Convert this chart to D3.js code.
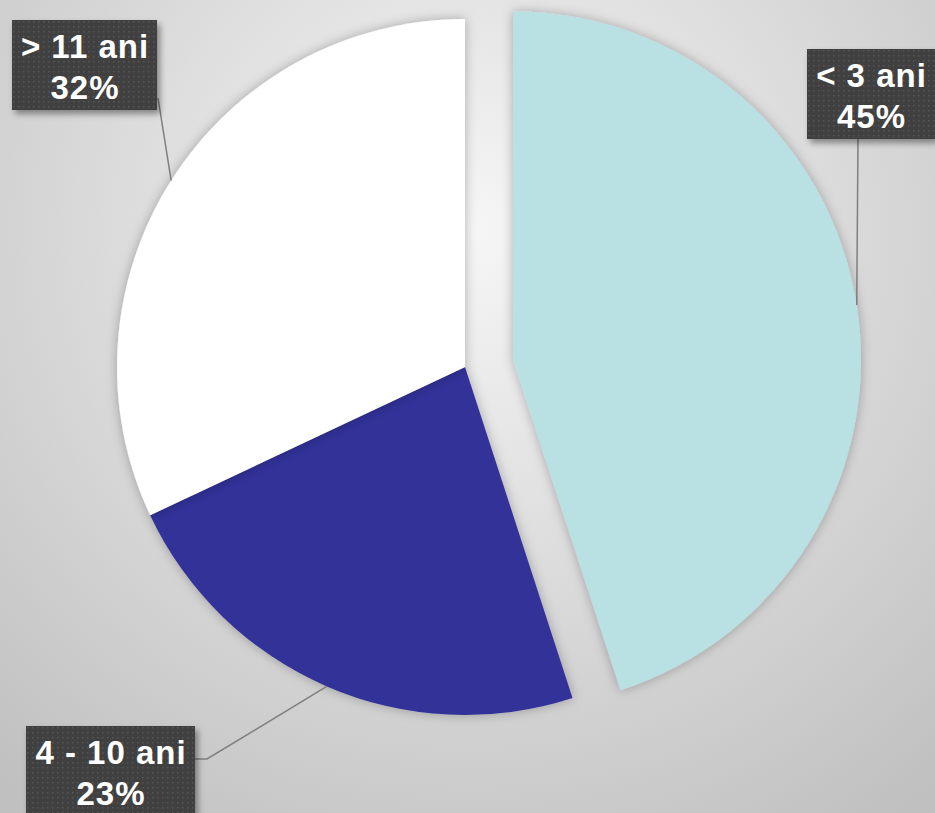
<!DOCTYPE html>
<html>
<head>
<meta charset="utf-8">
<script src="https://cdn.jsdelivr.net/npm/d3@7"></script>
<style>
  html, body { margin: 0; padding: 0; overflow: hidden; }
  body { width: 935px; height: 813px; }
</style>
</head>
<body>
<div id="chart-area"></div>
<script>
// data
const categories = ["< 3 ani", "4 - 10 ani", "> 11 ani"];
const values = [45, 23, 32];
const sliceColors = ["#b9e0e3", "#333399", "#ffffff"];
const explode = [48.6, 0, 0];

const width = 935;
const height = 813;
const cx = 465, cy = 367;
const radius = 348;

// label boxes (x, y, width) and where the leader line leaves the box
const labelBoxes = [
    { x: 807, y: 49, w: 128, ax: 858, ay: 139, bend: null },
    { x: 26, y: 726, w: 169, ax: 195, ay: 759, bend: [207, 759] },
    { x: 12, y: 20, w: 145, ax: 158, ay: 98, bend: null }
];
const boxHeight = 90;

const svg = d3.select("#chart-area")
    .append("svg")
        .attr("width", width)
        .attr("height", height);

const defs = svg.append("defs");

// background gradient
const bg = defs.append("radialGradient")
    .attr("id", "bg")
    .attr("gradientUnits", "userSpaceOnUse")
    .attr("cx", 470).attr("cy", 230).attr("r", 720);
bg.append("stop").attr("offset", "0%").attr("stop-color", "#f6f6f6");
bg.append("stop").attr("offset", "100%").attr("stop-color", "#c0c0c0");

// soft shadow for slices
const sliceShadow = defs.append("filter")
    .attr("id", "sliceShadow")
    .attr("x", "-20%").attr("y", "-20%").attr("width", "140%").attr("height", "140%");
sliceShadow.append("feDropShadow")
    .attr("dx", 0).attr("dy", 0)
    .attr("stdDeviation", 6)
    .attr("flood-color", "#000")
    .attr("flood-opacity", 0.28);

// shadow for label boxes
const boxShadow = defs.append("filter")
    .attr("id", "boxShadow")
    .attr("x", "-20%").attr("y", "-20%").attr("width", "150%").attr("height", "150%");
boxShadow.append("feDropShadow")
    .attr("dx", 3).attr("dy", 4)
    .attr("stdDeviation", 3)
    .attr("flood-color", "#000")
    .attr("flood-opacity", 0.4);

// dotted pattern of the label boxes
const dots = defs.append("pattern")
    .attr("id", "dots")
    .attr("patternUnits", "userSpaceOnUse")
    .attr("width", 5).attr("height", 5);
dots.append("rect").attr("width", 5).attr("height", 5).attr("fill", "#3f3f3f");
dots.append("rect").attr("x", 1).attr("y", 1).attr("width", 1.5).attr("height", 1.5).attr("fill", "#575757");

svg.append("rect")
    .attr("width", width)
    .attr("height", height)
    .attr("fill", "url(#bg)");

const pie = d3.pie().sort(null).value(d => d);
const arcs = pie(values);

const arc = d3.arc().innerRadius(0).outerRadius(radius);

// offset of a slice along its bisector
function offset(d, i) {
    const mid = (d.startAngle + d.endAngle) / 2;
    return [Math.sin(mid) * explode[i], -Math.cos(mid) * explode[i]];
}

const pieGroup = svg.append("g")
    .attr("transform", `translate(${cx}, ${cy})`);

pieGroup.selectAll("path.slice")
    .data(arcs)
    .enter()
    .append("path")
    .attr("class", "slice")
    .attr("transform", (d, i) => {
        const [dx, dy] = offset(d, i);
        return `translate(${dx}, ${dy})`;
    })
    .attr("d", arc)
    .attr("fill", (d, i) => sliceColors[i])
    .attr("filter", "url(#sliceShadow)");

// leader lines: from label box to the middle of the slice's outer edge
arcs.forEach((d, i) => {
    const [dx, dy] = offset(d, i);
    const mid = (d.startAngle + d.endAngle) / 2;
    const px = cx + dx + Math.sin(mid) * radius;
    const py = cy + dy - Math.cos(mid) * radius;
    const b = labelBoxes[i];
    const pts = [[b.ax, b.ay]];
    if (b.bend) pts.push(b.bend);
    pts.push([px, py]);
    svg.append("path")
        .attr("d", d3.line()(pts))
        .attr("fill", "none")
        .attr("stroke", "#7f7f7f")
        .attr("stroke-width", 1.5);
});

// labels
const labels = svg.selectAll("g.label")
    .data(arcs)
    .enter()
    .append("g")
    .attr("class", "label")
    .attr("transform", (d, i) => `translate(${labelBoxes[i].x}, ${labelBoxes[i].y})`);

labels.append("rect")
    .attr("width", (d, i) => labelBoxes[i].w)
    .attr("height", boxHeight)
    .attr("fill", "url(#dots)")
    .attr("filter", "url(#boxShadow)");

const labelText = labels.append("text")
    .attr("text-anchor", "middle")
    .attr("fill", "#ffffff")
    .style("font-family", "'Liberation Sans', Arial, sans-serif")
    .style("font-weight", "bold")
    .style("font-size", "33px")
    .style("letter-spacing", "1px");

labelText.append("tspan")
    .attr("x", (d, i) => labelBoxes[i].w / 2 + 0.5)
    .attr("y", 38)
    .text((d, i) => categories[i]);

labelText.append("tspan")
    .attr("x", (d, i) => labelBoxes[i].w / 2 + 0.5)
    .attr("y", 79)
    .text((d, i) => d3.format(".0%")(values[i] / d3.sum(values)));
</script>
</body>
</html>
